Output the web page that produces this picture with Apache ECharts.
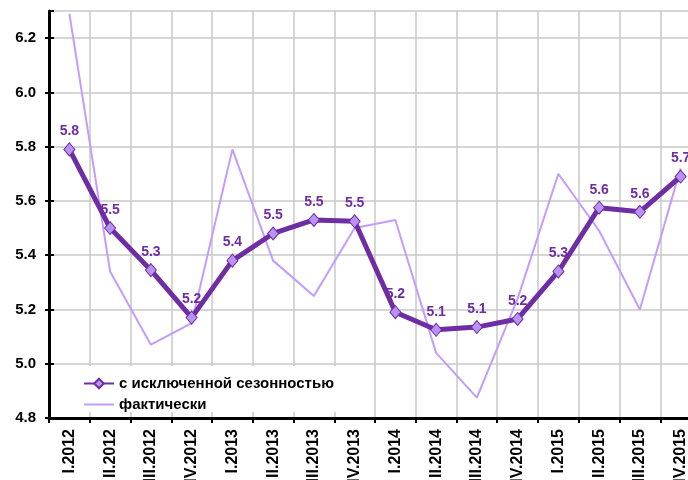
<!DOCTYPE html>
<html>
<head>
<meta charset="utf-8">
<script src="https://cdn.jsdelivr.net/npm/echarts@6/dist/echarts.min.js"></script>
<style>
  html, body { margin: 0; padding: 0; background: #fff; overflow: hidden; }
  #chart { width: 701px; height: 480px; }
</style>
</head>
<body>
<div id="chart"></div>
<script>
// квартальные метки (нижняя часть подписей обрезана краем картинки)
const quarters = [
  'I.2012', 'II.2012', 'III.2012', 'IV.2012',
  'I.2013', 'II.2013', 'III.2013', 'IV.2013',
  'I.2014', 'II.2014', 'III.2014', 'IV.2014',
  'I.2015', 'II.2015', 'III.2015', 'IV.2015'
]
const seasonallyAdjusted = [5.79, 5.50, 5.345, 5.17, 5.38, 5.48, 5.53, 5.525, 5.19, 5.125, 5.135, 5.165, 5.34, 5.575, 5.56, 5.69]
const actual = [6.29, 5.34, 5.07, 5.15, 5.79, 5.38, 5.25, 5.50, 5.53, 5.04, 4.875, 5.24, 5.70, 5.49, 5.20, 5.72]
const yMin = 4.8
const yMax = 6.3
const yStep = 0.2

const seriesNames = ['с исключенной сезонностью', 'фактически']
const font = 'Liberation Sans, Arial, sans-serif'

const chart = echarts.init(document.getElementById('chart'))

const option = {
  animation: false,
  grid: { left: 49, right: 0, top: 11, bottom: 62, outerBoundsMode: 'none' },
  legend: {
    data: [
      { name: seriesNames[0] },
      { name: seriesNames[1], itemStyle: { opacity: 0 } }
    ],
    orient: 'vertical',
    left: 77,
    top: 366,
    padding: [10, 36, 0, 6],
    itemGap: 6,
    itemWidth: 30,
    itemHeight: 12,
    backgroundColor: '#fff',
    textStyle: { fontFamily: font, fontWeight: 'bold', fontSize: 15, color: '#000' }
  },
  xAxis: {
    type: 'category',
    data: quarters,
    boundaryGap: true,
    axisLine: { lineStyle: { color: '#000', width: 3 } },
    axisTick: { show: true, length: 5, lineStyle: { color: '#000', width: 2 } },
    splitLine: { show: true, lineStyle: { color: '#c8c8c8', width: 1.5 } },
    axisLabel: {
      rotate: 90,
      margin: 11,
      interval: 0,
      fontFamily: font,
      fontWeight: 'bold',
      fontSize: 16,
      color: '#000'
    }
  },
  yAxis: [
    {
      type: 'value',
      min: yMin,
      max: yMax,
      interval: yStep,
      axisLine: { show: true, lineStyle: { color: '#000', width: 3 } },
      axisTick: { show: true, length: 4, lineStyle: { color: '#000', width: 2 } },
      splitLine: { show: true, lineStyle: { color: '#c8c8c8', width: 1.5 } },
      axisLabel: {
        showMaxLabel: false,
        margin: 13,
        fontFamily: font,
        fontWeight: 'bold',
        fontSize: 15,
        color: '#000',
        formatter: v => v.toFixed(1)
      }
    },
    {
      // только внутренние риски, чтобы они пересекали ось
      type: 'value',
      position: 'left',
      min: yMin,
      max: yMax,
      interval: yStep,
      axisLine: { show: false },
      axisTick: { show: true, inside: true, length: 5, lineStyle: { color: '#000', width: 2 } },
      splitLine: { show: false },
      axisLabel: { show: false }
    }
  ],
  series: [
    {
      name: seriesNames[1],
      type: 'line',
      data: actual,
      z: 2,
      symbol: 'none',
      lineStyle: { color: '#c39cff', width: 2 },
      itemStyle: { color: '#c39cff' }
    },
    {
      name: seriesNames[0],
      type: 'line',
      data: seasonallyAdjusted,
      z: 3,
      symbol: 'diamond',
      symbolSize: [11, 13],
      lineStyle: { color: '#6f2da3', width: 5 },
      itemStyle: { color: '#b893f2', borderColor: '#6f2da3', borderWidth: 1 },
      label: {
        show: true,
        position: 'top',
        distance: 4,
        fontFamily: font,
        fontWeight: 'bold',
        fontSize: 14,
        color: '#6f2da3',
        formatter: p => p.value.toFixed(1)
      }
    }
  ]
}

chart.setOption(option)
</script>
</body>
</html>
